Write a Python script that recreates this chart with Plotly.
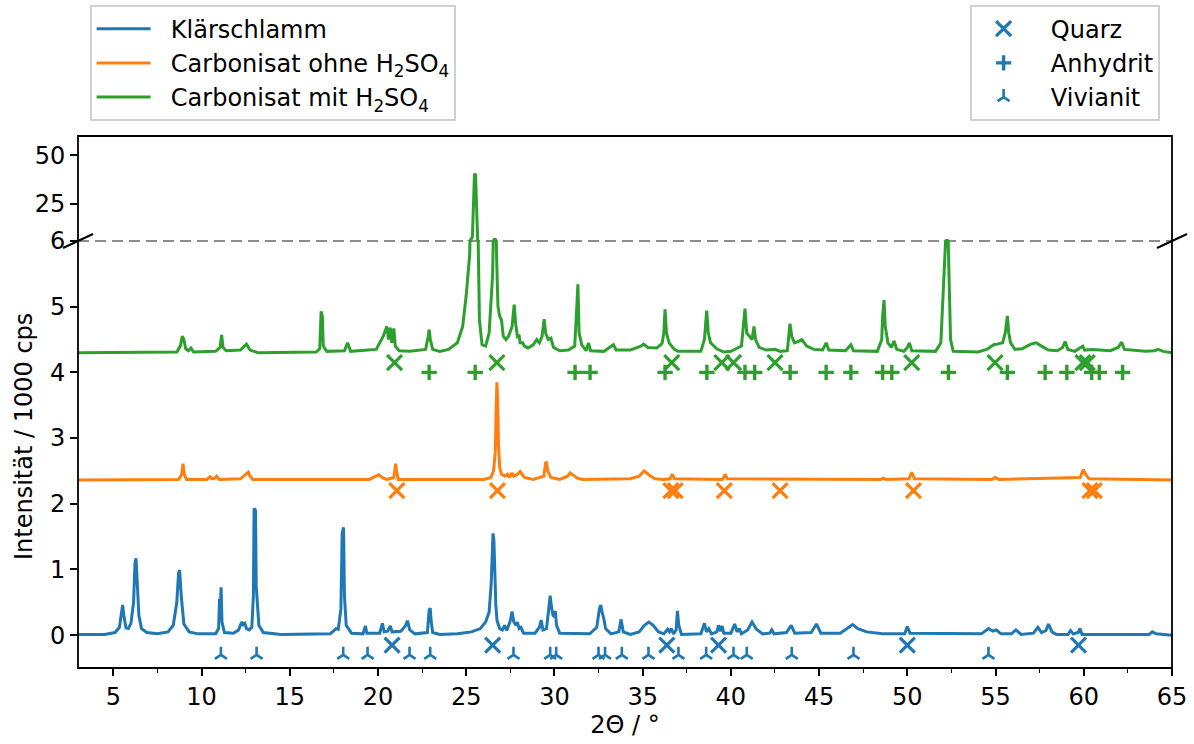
import plotly.graph_objects as go

# ---------------- data ----------------
klaer_pts = [
    (3.0, 0.01), (4.5, 0.01), (5.1, 0.04), (5.35, 0.12), (5.47, 0.35), (5.53, 0.46), (5.6, 0.3),
    (5.72, 0.11), (5.85, 0.1), (6.0, 0.18), (6.15, 0.5), (6.23, 1.1), (6.29, 1.17), (6.35, 0.9),
    (6.45, 0.3), (6.6, 0.1), (6.9, 0.04), (7.5, 0.02), (8.1, 0.05), (8.4, 0.15), (8.6, 0.5),
    (8.7, 0.95), (8.76, 0.99), (8.85, 0.6), (9.0, 0.17), (9.3, 0.05), (9.8, 0.02), (10.8, 0.02),
    (10.97, 0.1), (11.02, 0.55), (11.06, 0.35), (11.11, 0.73), (11.16, 0.2), (11.3, 0.04),
    (11.8, 0.03), (12.1, 0.08), (12.28, 0.2), (12.36, 0.16), (12.45, 0.18), (12.55, 0.1),
    (12.7, 0.08), (12.85, 0.12), (12.94, 0.6), (12.98, 1.93), (13.06, 1.9), (13.1, 0.75),
    (13.15, 0.55), (13.25, 0.15), (13.5, 0.04), (14.5, 0.01), (17.3, 0.02), (17.55, 0.08),
    (17.62, 0.1), (17.75, 0.09), (17.9, 0.4), (17.97, 1.55), (18.05, 1.64), (18.1, 0.6),
    (18.2, 0.15), (18.5, 0.03), (19.15, 0.02), (19.29, 0.14), (19.37, 0.03), (20.1, 0.03),
    (20.25, 0.18), (20.35, 0.05), (20.55, 0.06), (20.7, 0.14), (20.8, 0.05), (21.3, 0.06),
    (21.55, 0.14), (21.67, 0.22), (21.8, 0.08), (22.1, 0.02), (22.8, 0.04), (22.9, 0.38),
    (22.96, 0.41), (23.02, 0.2), (23.1, 0.04), (23.5, 0.01), (24.5, 0.02), (25.3, 0.05),
    (25.8, 0.1), (26.1, 0.2), (26.3, 0.35), (26.42, 0.8), (26.47, 1.4), (26.52, 1.55),
    (26.57, 1.45), (26.62, 1.0), (26.68, 0.45), (26.75, 0.22), (26.9, 0.1), (27.05, 0.08),
    (27.18, 0.15), (27.3, 0.07), (27.5, 0.22), (27.6, 0.36), (27.7, 0.2), (27.82, 0.15),
    (27.9, 0.2), (28.0, 0.1), (28.1, 0.12), (28.25, 0.03), (28.9, 0.03), (29.15, 0.12),
    (29.25, 0.23), (29.35, 0.08), (29.55, 0.1), (29.68, 0.4), (29.76, 0.6), (29.82, 0.45),
    (29.92, 0.3), (30.0, 0.28), (30.05, 0.37), (30.12, 0.15), (30.3, 0.03), (32.0, 0.02),
    (32.4, 0.12), (32.55, 0.4), (32.63, 0.46), (32.7, 0.35), (32.8, 0.25), (32.9, 0.1),
    (33.2, 0.02), (33.65, 0.05), (33.78, 0.24), (33.9, 0.05), (34.3, 0.01), (34.8, 0.05),
    (35.1, 0.15), (35.35, 0.2), (35.6, 0.15), (35.9, 0.05), (36.2, 0.02), (36.42, 0.09),
    (36.52, 0.05), (36.62, 0.1), (36.75, 0.02), (36.9, 0.08), (36.97, 0.37), (37.05, 0.15),
    (37.2, 0.01), (38.3, 0.02), (38.5, 0.18), (38.62, 0.05), (38.75, 0.1), (38.9, 0.02),
    (39.2, 0.05), (39.3, 0.15), (39.4, 0.06), (39.5, 0.14), (39.6, 0.03), (40.0, 0.03),
    (40.22, 0.17), (40.35, 0.05), (40.48, 0.1), (40.6, 0.02), (40.95, 0.08), (41.2, 0.2),
    (41.45, 0.09), (41.8, 0.02), (42.2, 0.03), (42.32, 0.08), (42.45, 0.02), (43.15, 0.04),
    (43.42, 0.15), (43.62, 0.03), (44.55, 0.04), (44.85, 0.17), (45.1, 0.03), (46.2, 0.03),
    (46.6, 0.1), (46.9, 0.16), (47.2, 0.1), (47.7, 0.05), (48.6, 0.02), (49.85, 0.02),
    (50.0, 0.13), (50.15, 0.03), (54.2, 0.02), (54.6, 0.1), (54.85, 0.06), (55.05, 0.08),
    (55.3, 0.02), (55.9, 0.02), (56.15, 0.08), (56.45, 0.01), (57.15, 0.03), (57.4, 0.12),
    (57.6, 0.04), (57.85, 0.07), (58.0, 0.17), (58.2, 0.05), (58.45, 0.01), (59.1, 0.01),
    (59.25, 0.07), (59.4, 0.02), (59.68, 0.04), (59.78, 0.1), (59.9, 0.01), (63.7, 0.01),
    (63.88, 0.05), (64.1, 0.02), (65.0, 0.0),
]

ohne_pts = [
    (3.0, 2.36), (8.7, 2.37), (8.88, 2.45), (8.95, 2.61), (9.02, 2.45), (9.15, 2.37),
    (10.3, 2.37), (10.48, 2.41), (10.6, 2.38), (10.75, 2.39), (10.86, 2.42), (11.0, 2.37),
    (12.2, 2.38), (12.5, 2.44), (12.65, 2.48), (12.75, 2.42), (12.9, 2.37), (19.5, 2.37),
    (19.9, 2.42), (20.05, 2.44), (20.3, 2.39), (20.5, 2.37), (20.9, 2.4), (20.97, 2.55),
    (21.0, 2.61), (21.05, 2.5), (21.15, 2.37), (26.0, 2.37), (26.4, 2.4), (26.55, 2.5),
    (26.65, 2.8), (26.7, 3.5), (26.74, 3.85), (26.78, 3.6), (26.83, 2.9), (26.9, 2.55),
    (27.0, 2.45), (27.2, 2.42), (27.35, 2.45), (27.45, 2.4), (27.59, 2.47), (27.7, 2.42),
    (27.9, 2.45), (28.06, 2.49), (28.3, 2.4), (28.8, 2.37), (29.4, 2.42), (29.5, 2.62),
    (29.55, 2.64), (29.62, 2.5), (29.8, 2.4), (30.3, 2.37), (30.75, 2.42), (30.89, 2.47),
    (31.0, 2.45), (31.1, 2.44), (31.3, 2.39), (31.6, 2.37), (34.3, 2.38), (34.8, 2.42),
    (35.08, 2.5), (35.4, 2.43), (35.7, 2.38), (36.2, 2.37), (36.55, 2.38), (36.69, 2.45),
    (36.8, 2.38), (39.5, 2.37), (39.6, 2.4), (39.67, 2.45), (39.8, 2.38), (48.5, 2.37),
    (48.64, 2.39), (48.8, 2.37), (50.1, 2.38), (50.25, 2.48), (50.4, 2.38), (54.8, 2.37),
    (54.97, 2.4), (55.2, 2.37), (59.8, 2.4), (59.97, 2.52), (60.1, 2.45), (60.3, 2.38),
    (65.0, 2.36),
]

mit_pts = [
    (3.0, 4.3), (8.6, 4.31), (8.8, 4.4), (8.91, 4.55), (9.0, 4.5), (9.1, 4.36), (9.25, 4.33),
    (9.4, 4.37), (9.55, 4.31), (10.8, 4.32), (11.05, 4.38), (11.14, 4.57), (11.22, 4.38),
    (11.4, 4.33), (12.2, 4.34), (12.55, 4.43), (12.75, 4.34), (13.2, 4.3), (16.5, 4.31),
    (16.7, 4.36), (16.78, 4.93), (16.85, 4.85), (16.9, 4.4), (17.1, 4.32), (18.1, 4.33),
    (18.28, 4.45), (18.45, 4.32), (19.9, 4.35), (20.3, 4.55), (20.5, 4.7), (20.6, 4.5),
    (20.7, 4.68), (20.78, 4.45), (20.9, 4.67), (20.98, 4.4), (21.2, 4.33), (21.8, 4.32),
    (22.7, 4.35), (22.85, 4.55), (22.9, 4.65), (22.97, 4.5), (23.1, 4.35), (23.5, 4.32),
    (24.0, 4.35), (24.5, 4.45), (24.8, 4.7), (25.0, 5.17), (25.2, 5.8), (25.35, 8.0),
    (25.42, 25.0), (25.47, 40.6), (25.53, 40.0), (25.58, 20.0), (25.65, 6.5), (25.75, 4.8),
    (25.9, 4.42), (26.1, 4.4), (26.3, 4.6), (26.5, 5.5), (26.58, 6.8), (26.66, 6.8),
    (26.72, 5.8), (26.8, 5.0), (26.9, 4.85), (27.0, 4.8), (27.1, 4.55), (27.25, 4.5),
    (27.4, 4.55), (27.6, 4.7), (27.72, 5.03), (27.8, 4.75), (27.9, 4.55), (28.0, 4.57),
    (28.05, 4.45), (28.2, 4.45), (28.3, 4.4), (28.5, 4.37), (28.8, 4.42), (29.0, 4.5),
    (29.15, 4.45), (29.3, 4.55), (29.42, 4.81), (29.5, 4.6), (29.65, 4.5), (29.8, 4.52),
    (29.95, 4.38), (30.3, 4.33), (30.8, 4.34), (31.15, 4.4), (31.25, 4.9), (31.33, 5.34),
    (31.4, 4.6), (31.55, 4.42), (31.8, 4.33), (31.93, 4.45), (32.05, 4.33), (32.8, 4.32),
    (33.34, 4.42), (33.5, 4.34), (34.3, 4.34), (34.7, 4.38), (34.9, 4.4), (35.05, 4.43),
    (35.3, 4.38), (35.8, 4.37), (36.1, 4.44), (36.2, 4.6), (36.27, 4.96), (36.35, 4.6),
    (36.5, 4.45), (36.8, 4.35), (37.0, 4.32), (38.3, 4.32), (38.5, 4.5), (38.63, 4.94),
    (38.72, 4.6), (38.85, 4.45), (39.2, 4.36), (39.6, 4.31), (40.0, 4.32), (40.6, 4.4),
    (40.75, 4.8), (40.8, 4.97), (40.9, 4.6), (41.05, 4.55), (41.2, 4.5), (41.31, 4.7),
    (41.4, 4.5), (41.6, 4.38), (42.0, 4.34), (42.5, 4.35), (42.8, 4.32), (43.2, 4.33),
    (43.3, 4.55), (43.35, 4.74), (43.45, 4.55), (43.6, 4.45), (43.8, 4.47), (44.02, 4.5),
    (44.3, 4.4), (44.7, 4.35), (45.2, 4.34), (45.4, 4.45), (45.55, 4.34), (46.5, 4.33),
    (46.8, 4.42), (46.95, 4.33), (48.3, 4.32), (48.55, 4.5), (48.6, 4.85), (48.68, 5.1),
    (48.75, 4.7), (48.9, 4.45), (49.1, 4.38), (49.25, 4.48), (49.4, 4.35), (49.8, 4.32),
    (50.0, 4.38), (50.12, 4.45), (50.25, 4.33), (51.6, 4.32), (51.9, 4.45), (52.05, 5.2),
    (52.15, 5.8), (52.22, 6.3), (52.3, 6.2), (52.38, 5.4), (52.45, 4.5), (52.6, 4.32),
    (54.0, 4.31), (54.5, 4.35), (54.9, 4.42), (55.1, 4.43), (55.4, 4.45), (55.55, 4.6),
    (55.67, 4.86), (55.75, 4.6), (55.85, 4.45), (56.1, 4.35), (56.5, 4.36), (57.0, 4.43),
    (57.3, 4.45), (57.6, 4.4), (58.0, 4.34), (58.5, 4.33), (58.8, 4.38), (58.94, 4.47),
    (59.1, 4.35), (59.5, 4.32), (59.85, 4.38), (59.94, 4.4), (60.05, 4.34), (60.5, 4.35),
    (61.5, 4.33), (61.95, 4.38), (62.15, 4.46), (62.3, 4.35), (63.5, 4.32), (64.0, 4.33),
    (64.22, 4.35), (64.5, 4.32), (65.0, 4.3),
]

quarz_blau = [20.8, 26.5, 36.37, 39.3, 50.0, 59.7]
vivianit_blau = [11.1, 13.12, 18.03, 19.41, 21.79, 22.96, 27.68, 29.76, 30.1, 32.5, 32.87,
                 33.82, 35.33, 37.03, 38.6, 40.15, 40.9, 43.45, 46.95, 54.6]
quarz_orange = [21.07, 26.77, 36.6, 36.85, 39.63, 42.79, 50.35, 60.35, 60.6]
quarz_gruen = [20.94, 26.74, 36.65, 39.49, 40.15, 42.5, 50.25, 54.97, 59.95, 60.2]
anhydrit_gruen = [22.9, 25.51, 31.17, 32.02, 36.27, 38.64, 40.8, 41.35, 43.36, 45.4, 46.8,
                  48.6, 49.12, 52.33, 55.67, 57.81, 59.04, 60.45, 60.88, 62.2]

y_quarz_blau = -0.15
y_vivianit_blau = -0.30
y_quarz_orange = 2.20
y_quarz_gruen = 4.15
y_anhydrit_gruen = 4.00

x_ticks = [5, 10, 15, 20, 25, 30, 35, 40, 45, 50, 55, 60, 65]
y_ticks_lower = [0, 1, 2, 3, 4, 5, 6]
y_ticks_upper = [25, 50]

series_names = ["Klärschlamm", "Carbonisat ohne H<sub>2</sub>SO<sub>4</sub>",
                "Carbonisat mit H<sub>2</sub>SO<sub>4</sub>"]
phase_names = ["Quarz", "Anhydrit", "Vivianit"]

# ---------------- styling ----------------
C0, C1, C2 = "#1f77b4", "#ff7f0e", "#2ca02c"
FONT = dict(family="DejaVu Sans", size=24, color="black")
W, H = 1194, 744
ML, MR, MT, MB = 78, 22, 136, 76
PW, PH = W - ML - MR, H - MT - MB
SPLIT = (H - MB - 241) / PH  # paper fraction where the axis is broken
PAD = "\u00a0\u00a0"

SYM = {"Quarz": dict(symbol="x-thin", size=15, lw=3.2),
       "Anhydrit": dict(symbol="cross-thin", size=11, lw=3.4),
       "Vivianit": dict(symbol="y-up", size=10, lw=2.6)}


def unzip(pts):
    return [p[0] for p in pts], [p[1] for p in pts]


fig = go.Figure()

curves = [(klaer_pts, C0), (ohne_pts, C1), (mit_pts, C2)]
for i, (pts, col) in enumerate(curves):
    xs, ys = unzip(pts)
    fig.add_trace(go.Scatter(x=xs, y=ys, mode="lines", name=PAD + series_names[i],
                             line=dict(color=col, width=3), legend="legend",
                             legendgroup=f"s{i}", xaxis="x", yaxis="y"))
    fig.add_trace(go.Scatter(x=xs, y=ys, mode="lines", showlegend=False,
                             line=dict(color=col, width=3), xaxis="x", yaxis="y2"))


def marker_trace(xs, yv, phase, col):
    s = SYM[phase]
    return go.Scatter(x=xs, y=[yv] * len(xs), mode="markers", showlegend=False,
                      marker=dict(symbol=s["symbol"], size=s["size"], color=col,
                                  line=dict(width=s["lw"], color=col)),
                      xaxis="x", yaxis="y", cliponaxis=False)


fig.add_trace(marker_trace(quarz_blau, y_quarz_blau, "Quarz", C0))
fig.add_trace(marker_trace(vivianit_blau, y_vivianit_blau, "Vivianit", C0))
fig.add_trace(marker_trace(quarz_orange, y_quarz_orange, "Quarz", C1))
fig.add_trace(marker_trace(quarz_gruen, y_quarz_gruen, "Quarz", C2))
fig.add_trace(marker_trace(anhydrit_gruen, y_anhydrit_gruen, "Anhydrit", C2))

# legend entries for the phase markers (all drawn in the first colour)
for j, ph in enumerate(phase_names):
    s = SYM[ph]
    fig.add_trace(go.Scatter(x=[None], y=[None], mode="markers", name=PAD + ph,
                             legend="legend2", legendgroup=f"p{j}",
                             marker=dict(symbol=s["symbol"], size=s["size"], color=C0,
                                         line=dict(width=s["lw"], color=C0)),
                             xaxis="x", yaxis="y"))

axis_common = dict(showgrid=False, zeroline=False, ticks="outside", ticklen=7,
                   tickwidth=1.6, tickcolor="black", tickfont=FONT, showline=False,
                   automargin=False)

dx = 15 / PW
dy = 7 / PH
shapes = [
    dict(type="rect", xref="paper", yref="paper", x0=0, x1=1, y0=0, y1=1,
         line=dict(color="black", width=1.8), layer="above"),
    dict(type="line", xref="paper", yref="paper", x0=0, x1=1, y0=SPLIT, y1=SPLIT,
         line=dict(color="#8c8c8c", width=2, dash="11px,6px"), layer="below"),
    dict(type="line", xref="paper", yref="paper", x0=-dx, x1=dx, y0=SPLIT - dy, y1=SPLIT + dy,
         line=dict(color="black", width=2)),
    dict(type="line", xref="paper", yref="paper", x0=1 - dx, x1=1 + dx, y0=SPLIT - dy,
         y1=SPLIT + dy, line=dict(color="black", width=2)),
]

fig.update_layout(
    width=W, height=H,
    margin=dict(l=ML, r=MR, t=MT, b=MB, pad=0, autoexpand=False),
    paper_bgcolor="white", plot_bgcolor="white",
    font=FONT,
    xaxis=dict(domain=[0, 1], anchor="y", range=[3, 65], tickvals=x_ticks,
               minor=dict(ticks="outside", dtick=2.5, tick0=2.5, ticklen=4, tickwidth=1.4,
                          tickcolor="black"),
               title=dict(text="2Θ / °", font=FONT, standoff=4), **axis_common),
    yaxis=dict(domain=[0, SPLIT], anchor="x", range=[-0.5, 6], tickvals=y_ticks_lower,
               **axis_common),
    yaxis2=dict(domain=[SPLIT, 1], anchor="x", range=[6, 60], tickvals=y_ticks_upper,
                **axis_common),
    shapes=shapes,
    annotations=[dict(text="Intensität / 1000 cps", textangle=-90, xref="paper", yref="paper",
                      x=(24 - ML) / PW, y=(H - MB - 437) / PH, xanchor="center",
                      yanchor="middle", showarrow=False, font=FONT)],
    legend=dict(x=(90 - ML) / PW, y=(H - MB - 5) / PH, xanchor="left", yanchor="top",
                bgcolor="white", bordercolor="#d0d0d0", borderwidth=1.6, font=FONT,
                itemwidth=54, tracegroupgap=6, traceorder="normal"),
    legend2=dict(x=(1160 - ML) / PW, y=(H - MB - 5) / PH, xanchor="right", yanchor="top",
                 bgcolor="white", bordercolor="#d0d0d0", borderwidth=1.6, font=FONT,
                 itemwidth=54, tracegroupgap=6, traceorder="normal"),
)

fig.write_html("out.html")
